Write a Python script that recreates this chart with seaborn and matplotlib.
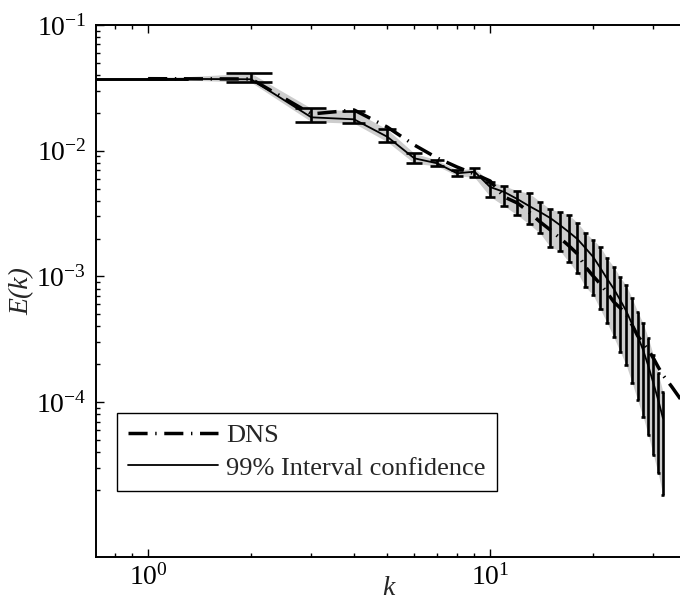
import numpy as np
import pandas as pd
import seaborn as sns
import matplotlib
matplotlib.use("Agg")
import matplotlib.pyplot as plt
from matplotlib.lines import Line2D
from matplotlib.ticker import FixedLocator, NullFormatter

# ---- data ----
k = list(range(1, 33))
mean_E = [0.0374, 0.0370, 0.01843, 0.01777, 0.01292, 0.00870, 0.00794, 0.00661,
          0.00681, 0.00514, 0.00469, 0.00413, 0.00363, 0.00325, 0.00291, 0.00256,
          0.00225, 0.00198, 0.00168, 0.00143, 0.001166, 0.000953, 0.000794, 0.000649,
          0.000530, 0.000418, 0.000336, 0.000260, 0.000194, 0.000142, 0.000104, 7.47e-5]
upper_E = [0.0374, 0.04128, 0.02175, 0.02069, 0.01480, 0.00953, 0.00843, 0.00702,
           0.00724, 0.00567, 0.00524, 0.00481, 0.00458, 0.00393, 0.00342, 0.00327,
           0.00308, 0.00267, 0.00223, 0.00195, 0.00172, 0.00139, 0.00119, 0.000984,
           0.000847, 0.000669, 0.000524, 0.000424, 0.000322, 0.000237, 0.000169, 0.000121]
lower_E = [0.0374, 0.03500, 0.01701, 0.01652, 0.01179, 0.00794, 0.00755, 0.00632,
           0.00614, 0.00431, 0.00363, 0.00308, 0.00261, 0.00220, 0.00171, 0.00160,
           0.00130, 0.00107, 0.000823, 0.000711, 0.000547, 0.000424, 0.000327, 0.000252,
           0.000196, 0.000143, 0.000103, 7.65e-5, 5.47e-5, 3.79e-5, 2.71e-5, 1.82e-5]
k_dns = list(range(1, 37))
dns_E = [0.0374, 0.0372, 0.01959, 0.02108, 0.01543, 0.01110, 0.00875, 0.00742,
         0.00653, 0.00574, 0.00428, 0.00384, 0.00325, 0.00271, 0.00234, 0.00202,
         0.00175, 0.00151, 0.00119, 0.001007, 0.000870, 0.000738, 0.000626, 0.000561,
         0.000502, 0.000411, 0.000336, 0.000295, 0.000260, 0.000224, 0.000190, 0.000164,
         0.000147, 0.000132, 0.000118, 0.000106]
cap_half = 0.31
labels = ["DNS", "99% Interval confidence"]

# ---- style ----
sns.set_theme(style="ticks")
plt.rcParams["font.family"] = ["Liberation Serif", "DejaVu Serif"]
plt.rcParams["mathtext.fontset"] = "stix"
plt.rcParams["axes.linewidth"] = 1.4

df_mean = pd.DataFrame({"k": k, "E": mean_E, "lo": lower_E, "hi": upper_E})
df_dns = pd.DataFrame({"k": k_dns, "E": dns_E})

fig = plt.figure(figsize=(6.8, 6.03), dpi=100)
ax = fig.add_axes([96 / 680, 1 - 556.7 / 603, 1 - 96 / 680, (556.7 - 25) / 603])
ax.set_xscale("log")
ax.set_yscale("log")

# confidence band
ax.fill_between(df_mean["k"], df_mean["lo"], df_mean["hi"], color="#cdcdcd",
                linewidth=0, zorder=1)
# error bars with caps of fixed data width
ax.vlines(df_mean["k"], df_mean["lo"], df_mean["hi"], color="black", lw=1.9, zorder=2)
kk = np.array(k, dtype=float)
ax.hlines(df_mean["lo"], kk - cap_half, kk + cap_half, color="black", lw=1.9, zorder=2)
ax.hlines(df_mean["hi"], kk - cap_half, kk + cap_half, color="black", lw=1.9, zorder=2)

# mean line
sns.lineplot(data=df_mean, x="k", y="E", ax=ax, color="black", lw=1.3,
             estimator=None, sort=False, zorder=3)
# DNS dash-dot line
dash = (5.5, 2.2, 0.4, 2.2)
sns.lineplot(data=df_dns, x="k", y="E", ax=ax, color="black", lw=2.5,
             estimator=None, sort=False, zorder=4, dashes=False)
ax.lines[-1].set_dashes(dash)

ax.set_xlim(0.704, 35.9)
ax.set_ylim(10 ** -5.23, 0.1)

ax.yaxis.set_major_locator(FixedLocator([1e-4, 1e-3, 1e-2, 1e-1]))
yminor = [j * 10.0 ** n for n in range(-5, -1) for j in range(2, 10) if j * 10.0 ** n >= 2e-5]
ax.yaxis.set_minor_locator(FixedLocator(yminor))
ax.yaxis.set_minor_formatter(NullFormatter())

ax.tick_params(which="both", direction="in", top=True, right=False,
               labelsize=20, width=1.0, color="black", labelcolor="black")
ax.tick_params(which="major", length=6)
ax.tick_params(axis="x", which="major", pad=5)
ax.tick_params(axis="y", which="major", pad=7)
ax.tick_params(which="minor", length=3)
ax.spines["right"].set_visible(False)
for s in ["left", "top", "bottom"]:
    ax.spines[s].set_color("black")

ax.set_xlabel("k", fontsize=20, style="italic", labelpad=-10)
ax.set_ylabel("E(k)", fontsize=20, style="italic", labelpad=1)

handles = [Line2D([], [], color="black", lw=2.5, dashes=dash),
           Line2D([], [], color="black", lw=1.3)]
leg = ax.legend(handles, labels, loc="lower left",
                bbox_to_anchor=(0.036, 0.1236), borderaxespad=0,
                fontsize=19, handlelength=3.4, frameon=True, fancybox=False,
                framealpha=1, edgecolor="black", borderpad=0.43,
                labelspacing=0.33, handletextpad=0.3)
leg.get_frame().set_linewidth(1.0)
leg.set_zorder(10)

fig.savefig("out.png", dpi=100)
